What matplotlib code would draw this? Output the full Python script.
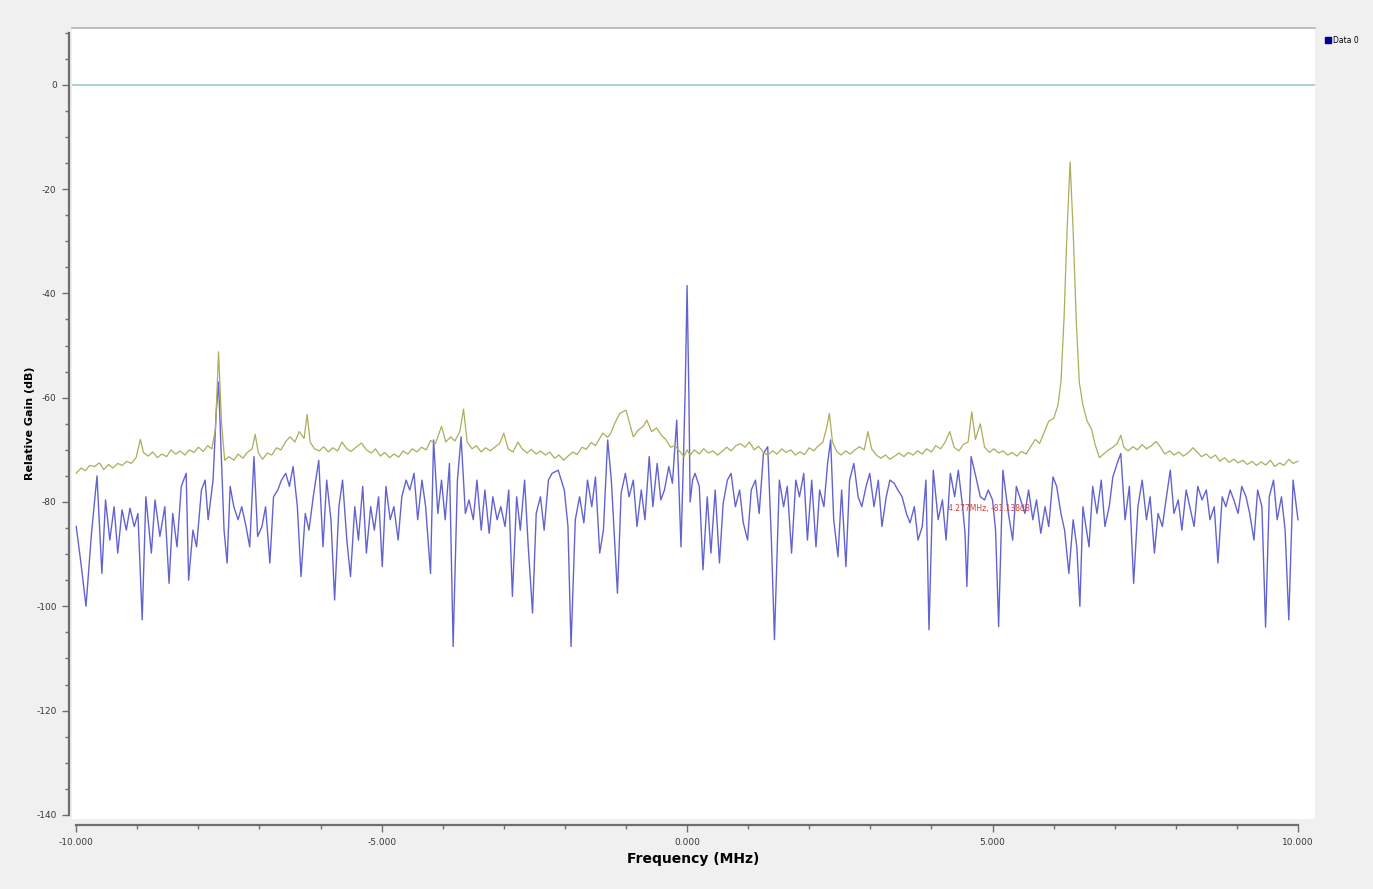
import matplotlib.pyplot as plt
from matplotlib.lines import Line2D
from matplotlib.ticker import MultipleLocator, FixedLocator

plt.rcParams['axes.unicode_minus'] = False

# trace 1 (olive) : (frequency MHz, gain dB)
olive_trace = [
    (-10.0, -74.5), (-9.92, -73.5), (-9.85, -74.0), (-9.78, -73.0), (-9.7, -73.2), (-9.62, -72.5),
    (-9.55, -73.8), (-9.47, -72.8), (-9.4, -73.5), (-9.32, -72.6), (-9.25, -73.0), (-9.17, -72.2),
    (-9.1, -72.6), (-9.02, -71.5), (-8.95, -68.0), (-8.9, -70.5), (-8.82, -71.2), (-8.75, -70.4),
    (-8.67, -71.5), (-8.6, -70.8), (-8.52, -71.3), (-8.45, -70.0), (-8.37, -70.8), (-8.3, -70.2),
    (-8.22, -71.0), (-8.15, -70.0), (-8.07, -70.5), (-8.0, -69.5), (-7.92, -70.3), (-7.85, -69.2),
    (-7.78, -69.8), (-7.72, -66.0), (-7.67, -51.2), (-7.62, -65.0), (-7.57, -72.0), (-7.5, -71.3),
    (-7.42, -72.0), (-7.35, -70.8), (-7.27, -71.6), (-7.2, -70.5), (-7.12, -69.8), (-7.07, -67.0),
    (-7.02, -70.5), (-6.95, -71.8), (-6.87, -70.6), (-6.8, -71.0), (-6.72, -69.6), (-6.65, -70.0),
    (-6.57, -68.4), (-6.5, -67.5), (-6.42, -68.5), (-6.35, -66.5), (-6.27, -67.8), (-6.22, -63.2),
    (-6.17, -68.5), (-6.1, -69.8), (-6.02, -70.2), (-5.95, -69.4), (-5.87, -70.4), (-5.8, -69.6),
    (-5.72, -70.2), (-5.65, -68.5), (-5.57, -69.8), (-5.5, -70.3), (-5.42, -69.5), (-5.33, -68.7),
    (-5.25, -70.0), (-5.17, -70.6), (-5.1, -69.8), (-5.02, -71.2), (-4.95, -70.5), (-4.87, -71.5),
    (-4.8, -70.8), (-4.72, -71.4), (-4.65, -70.2), (-4.57, -70.8), (-4.5, -69.8), (-4.42, -70.4),
    (-4.35, -69.5), (-4.27, -70.0), (-4.2, -68.2), (-4.12, -68.8), (-4.02, -65.5), (-3.95, -68.5),
    (-3.87, -67.5), (-3.8, -68.3), (-3.72, -66.5), (-3.66, -62.2), (-3.6, -68.5), (-3.52, -69.8),
    (-3.45, -69.2), (-3.37, -70.4), (-3.3, -69.6), (-3.22, -70.2), (-3.15, -69.5), (-3.07, -68.8),
    (-3.0, -66.8), (-2.93, -69.8), (-2.85, -70.4), (-2.77, -68.5), (-2.7, -69.8), (-2.62, -70.6),
    (-2.55, -69.9), (-2.47, -70.8), (-2.4, -70.2), (-2.32, -71.0), (-2.25, -70.4), (-2.17, -71.6),
    (-2.1, -71.0), (-2.02, -72.0), (-1.95, -71.2), (-1.87, -70.4), (-1.8, -70.9), (-1.72, -69.5),
    (-1.65, -69.9), (-1.57, -68.6), (-1.5, -69.2), (-1.43, -67.8), (-1.38, -66.8), (-1.3, -67.6),
    (-1.25, -66.8), (-1.18, -64.8), (-1.1, -63.0), (-1.0, -62.4), (-0.95, -64.5), (-0.88, -67.5),
    (-0.8, -66.2), (-0.72, -65.5), (-0.66, -64.3), (-0.58, -66.5), (-0.5, -65.8), (-0.42, -67.2),
    (-0.35, -68.0), (-0.27, -69.5), (-0.2, -69.2), (-0.12, -70.3), (-0.05, -71.3), (0.0, -70.0),
    (0.05, -71.0), (0.12, -70.0), (0.2, -70.8), (0.27, -69.8), (0.35, -70.6), (0.42, -70.2),
    (0.5, -71.0), (0.57, -70.3), (0.65, -69.5), (0.72, -70.2), (0.8, -69.2), (0.87, -68.8),
    (0.95, -69.5), (1.02, -68.5), (1.1, -70.0), (1.17, -69.3), (1.25, -70.5), (1.32, -71.0),
    (1.4, -70.2), (1.47, -70.8), (1.55, -69.8), (1.62, -70.5), (1.7, -70.0), (1.77, -71.0),
    (1.85, -70.4), (1.92, -70.9), (2.0, -69.6), (2.07, -70.2), (2.15, -69.2), (2.22, -68.6),
    (2.28, -66.0), (2.33, -63.0), (2.38, -68.5), (2.45, -70.3), (2.52, -71.0), (2.6, -70.2),
    (2.67, -70.8), (2.75, -70.0), (2.82, -69.4), (2.9, -70.0), (2.96, -66.5), (3.02, -69.8),
    (3.1, -71.0), (3.17, -71.6), (3.25, -71.0), (3.32, -71.8), (3.4, -71.2), (3.47, -70.6),
    (3.55, -71.3), (3.62, -70.5), (3.7, -71.0), (3.77, -70.2), (3.85, -70.8), (3.92, -69.8),
    (4.0, -70.4), (4.07, -69.2), (4.15, -69.8), (4.22, -68.6), (4.3, -66.5), (4.37, -69.5),
    (4.45, -70.2), (4.52, -69.0), (4.6, -68.5), (4.66, -62.7), (4.72, -68.0), (4.8, -65.0),
    (4.87, -69.5), (4.95, -70.5), (5.02, -69.8), (5.1, -70.6), (5.17, -70.2), (5.25, -71.0),
    (5.32, -70.5), (5.4, -71.2), (5.47, -70.3), (5.55, -70.8), (5.62, -69.5), (5.7, -68.0),
    (5.77, -68.8), (5.85, -66.5), (5.92, -64.5), (6.0, -64.0), (6.07, -61.5), (6.12, -57.0),
    (6.17, -45.0), (6.22, -28.0), (6.27, -14.8), (6.32, -28.0), (6.37, -45.0), (6.42, -57.0),
    (6.48, -61.5), (6.55, -64.5), (6.62, -66.0), (6.68, -69.0), (6.75, -71.5), (6.82, -70.8),
    (6.9, -70.0), (6.97, -69.5), (7.04, -68.8), (7.1, -67.2), (7.15, -69.5), (7.22, -70.2),
    (7.3, -69.4), (7.37, -70.0), (7.45, -69.0), (7.52, -69.8), (7.6, -69.2), (7.68, -68.4),
    (7.75, -69.5), (7.82, -70.8), (7.9, -70.2), (7.97, -71.0), (8.05, -70.4), (8.12, -71.2),
    (8.2, -70.6), (8.28, -69.6), (8.35, -70.4), (8.42, -71.3), (8.5, -70.8), (8.57, -71.6),
    (8.65, -71.0), (8.72, -72.2), (8.8, -71.5), (8.87, -72.4), (8.95, -71.8), (9.02, -72.5),
    (9.1, -72.0), (9.17, -72.8), (9.25, -72.2), (9.32, -73.0), (9.4, -72.3), (9.47, -72.9),
    (9.55, -72.0), (9.62, -73.2), (9.7, -72.5), (9.77, -73.0), (9.85, -71.8), (9.92, -72.6),
    (10.0, -72.2),
]

# trace 2 (blue) : (frequency MHz, gain dB)
blue_trace = [
    (-10.0, -84.7), (-9.92, -92.0), (-9.84, -100.0), (-9.75, -86.0), (-9.66, -75.0), (-9.58, -93.7),
    (-9.52, -79.6), (-9.45, -87.3), (-9.38, -80.9), (-9.32, -89.8), (-9.25, -81.5), (-9.18, -85.4),
    (-9.12, -81.2), (-9.05, -84.7), (-8.99, -82.2), (-8.92, -102.6), (-8.86, -79.0), (-8.77, -89.8),
    (-8.71, -79.6), (-8.63, -86.6), (-8.55, -80.9), (-8.48, -95.6), (-8.42, -82.2), (-8.35, -88.6),
    (-8.28, -77.0), (-8.2, -74.5), (-8.16, -95.0), (-8.09, -85.4), (-8.03, -88.6), (-7.95, -77.7),
    (-7.89, -75.8), (-7.84, -83.4), (-7.76, -75.8), (-7.71, -63.0), (-7.67, -57.0), (-7.63, -69.4),
    (-7.58, -85.4), (-7.53, -91.7), (-7.48, -77.0), (-7.42, -80.9), (-7.35, -83.4), (-7.29, -80.9),
    (-7.22, -84.7), (-7.16, -88.6), (-7.09, -71.3), (-7.03, -86.6), (-6.96, -84.7), (-6.9, -80.9),
    (-6.83, -91.7), (-6.77, -79.0), (-6.7, -77.7), (-6.64, -75.8), (-6.57, -74.5), (-6.51, -77.0),
    (-6.45, -73.2), (-6.38, -80.9), (-6.32, -94.3), (-6.25, -82.2), (-6.19, -85.4), (-6.12, -79.0),
    (-6.03, -72.0), (-5.96, -88.6), (-5.9, -75.8), (-5.83, -83.4), (-5.77, -98.8), (-5.7, -80.9),
    (-5.64, -75.8), (-5.57, -87.3), (-5.51, -94.3), (-5.44, -80.9), (-5.38, -87.3), (-5.31, -77.0),
    (-5.25, -89.8), (-5.18, -80.9), (-5.12, -85.4), (-5.05, -79.0), (-4.99, -92.4), (-4.93, -77.0),
    (-4.86, -83.4), (-4.8, -80.9), (-4.73, -87.3), (-4.67, -79.0), (-4.6, -75.8), (-4.54, -77.7),
    (-4.47, -74.5), (-4.41, -83.4), (-4.34, -75.8), (-4.28, -80.9), (-4.2, -93.7), (-4.15, -68.1),
    (-4.08, -82.2), (-4.02, -75.8), (-3.96, -83.4), (-3.89, -72.6), (-3.83, -107.7), (-3.76, -75.8),
    (-3.7, -67.5), (-3.63, -82.2), (-3.57, -79.6), (-3.5, -83.4), (-3.44, -75.8), (-3.37, -85.4),
    (-3.31, -77.7), (-3.24, -86.0), (-3.18, -79.0), (-3.11, -83.4), (-3.05, -80.9), (-2.98, -84.7),
    (-2.92, -77.7), (-2.86, -98.1), (-2.79, -79.0), (-2.73, -85.4), (-2.66, -75.8), (-2.6, -88.6),
    (-2.53, -101.3), (-2.47, -82.2), (-2.4, -79.0), (-2.34, -85.4), (-2.27, -75.8), (-2.21, -74.5),
    (-2.11, -73.9), (-2.01, -77.7), (-1.95, -84.7), (-1.9, -107.7), (-1.83, -83.4), (-1.76, -79.0),
    (-1.69, -84.0), (-1.63, -75.8), (-1.56, -80.9), (-1.5, -75.2), (-1.43, -89.8), (-1.37, -85.4),
    (-1.3, -68.1), (-1.24, -75.8), (-1.14, -97.5), (-1.08, -78.3), (-1.01, -74.5), (-0.95, -79.0),
    (-0.88, -75.8), (-0.82, -84.7), (-0.75, -77.7), (-0.69, -83.4), (-0.62, -71.3), (-0.56, -80.9),
    (-0.49, -72.6), (-0.43, -79.6), (-0.37, -77.7), (-0.3, -73.2), (-0.24, -76.4), (-0.17, -64.3),
    (-0.1, -88.6), (-0.06, -72.0), (-0.03, -58.0), (0.0, -38.5), (0.03, -60.0), (0.05, -80.0),
    (0.09, -75.8), (0.13, -74.5), (0.2, -77.0), (0.26, -93.0), (0.33, -79.0), (0.39, -89.8),
    (0.46, -77.7), (0.53, -91.7), (0.59, -80.3), (0.66, -75.8), (0.72, -74.5), (0.79, -80.9),
    (0.86, -77.7), (0.92, -84.0), (0.99, -87.3), (1.05, -77.7), (1.12, -75.8), (1.18, -82.2),
    (1.25, -70.7), (1.32, -69.4), (1.38, -87.3), (1.43, -106.4), (1.51, -75.8), (1.58, -80.9),
    (1.64, -77.0), (1.71, -89.8), (1.78, -75.8), (1.84, -79.0), (1.91, -74.5), (1.97, -87.3),
    (2.04, -75.8), (2.11, -88.6), (2.17, -77.7), (2.24, -80.9), (2.3, -72.6), (2.35, -68.1),
    (2.4, -83.4), (2.47, -90.5), (2.53, -77.7), (2.6, -92.4), (2.66, -75.8), (2.73, -72.6),
    (2.8, -79.0), (2.86, -80.9), (2.93, -77.0), (2.99, -74.5), (3.06, -80.9), (3.13, -75.8),
    (3.19, -84.7), (3.26, -79.0), (3.32, -75.8), (3.39, -76.4), (3.45, -77.7), (3.52, -79.0),
    (3.59, -82.2), (3.65, -84.0), (3.72, -80.9), (3.78, -87.3), (3.85, -84.7), (3.91, -75.8),
    (3.96, -104.5), (4.03, -73.9), (4.11, -83.4), (4.18, -79.6), (4.24, -87.3), (4.31, -74.5),
    (4.38, -79.0), (4.44, -73.9), (4.51, -80.9), (4.55, -86.0), (4.58, -96.2), (4.65, -71.3),
    (4.74, -75.8), (4.8, -79.0), (4.87, -79.6), (4.93, -77.7), (5.0, -79.6), (5.05, -85.4),
    (5.1, -103.9), (5.17, -73.9), (5.26, -82.2), (5.33, -87.3), (5.39, -77.0), (5.46, -79.6),
    (5.53, -82.2), (5.59, -77.7), (5.66, -83.4), (5.72, -79.6), (5.79, -86.0), (5.86, -80.9),
    (5.92, -84.7), (5.99, -75.2), (6.05, -77.0), (6.12, -82.2), (6.18, -85.4), (6.25, -93.7),
    (6.32, -83.4), (6.38, -88.6), (6.43, -100.0), (6.48, -80.9), (6.53, -84.7), (6.58, -88.6),
    (6.64, -77.0), (6.71, -82.2), (6.78, -75.8), (6.84, -84.7), (6.91, -80.9), (6.97, -75.2),
    (7.04, -72.6), (7.1, -70.7), (7.17, -83.4), (7.24, -77.0), (7.31, -95.6), (7.38, -80.9),
    (7.45, -75.8), (7.52, -83.4), (7.58, -79.0), (7.65, -89.8), (7.71, -82.2), (7.78, -84.7),
    (7.84, -79.6), (7.91, -73.9), (7.97, -82.2), (8.04, -79.6), (8.1, -85.4), (8.17, -77.7),
    (8.23, -80.9), (8.3, -84.7), (8.36, -77.0), (8.43, -79.6), (8.5, -77.7), (8.56, -83.4),
    (8.63, -80.9), (8.69, -91.7), (8.76, -79.0), (8.82, -80.9), (8.89, -77.7), (8.95, -79.6),
    (9.02, -82.2), (9.08, -77.0), (9.15, -79.0), (9.21, -82.2), (9.28, -87.3), (9.34, -77.7),
    (9.41, -80.9), (9.47, -104.0), (9.53, -79.0), (9.6, -75.8), (9.66, -83.4), (9.73, -79.0),
    (9.79, -85.4), (9.85, -102.6), (9.92, -75.8), (10.0, -83.4),
]

y_ticks = [0, -20, -40, -60, -80, -100, -120, -140]
x_ticks = [-10, -5, 0, 5, 10]
x_tick_labels = ['-10.000', '-5.000', '0.000', '5.000', '10.000']

olive_mhz, olive_db = zip(*olive_trace)
blue_mhz, blue_db = zip(*blue_trace)

fig = plt.figure(figsize=(13.73, 8.89), dpi=100, facecolor='#f0f0f0')
ax = fig.add_axes([0.0524, 0.0787, 0.9054, 0.8898])
ax.set_facecolor('white')

# reference line at 0 dB
ax.axhline(0, color='#a9d2d2', lw=1.4, zorder=1)

ax.plot(olive_mhz, olive_db, color='#adad5c', lw=0.9, zorder=3)
ax.plot(blue_mhz, blue_db, color='#4848c8', lw=1.0, alpha=0.85, zorder=2)

# marker readout
ax.text(4.27, -81.2, '4.277MHz, -81.138dB', color='#d04040', fontsize=5.5,
        va='center', ha='left', zorder=4)

ax.set_xlim(-10.07, 10.28)
ax.set_ylim(-140.8, 10.9)

ax.yaxis.set_major_locator(FixedLocator(y_ticks))
ax.yaxis.set_minor_locator(MultipleLocator(5))
ax.xaxis.set_major_locator(FixedLocator(x_ticks))
ax.xaxis.set_minor_locator(MultipleLocator(1))
ax.set_xticklabels(x_tick_labels)

ax.spines['right'].set_visible(False)
ax.spines['top'].set_color('#b4b4b4')
ax.spines['top'].set_linewidth(1.2)
ax.spines['left'].set_bounds(-140, 10)
ax.spines['bottom'].set_bounds(-10, 10)
ax.spines['left'].set_position(('outward', 2))
ax.spines['bottom'].set_position(('outward', 4))
for s in ['left', 'bottom']:
    ax.spines[s].set_color('#6e6e6e')
    ax.spines[s].set_linewidth(1.6)

ax.tick_params(axis='both', which='major', direction='out', colors='#6e6e6e',
               labelcolor='#3a3a3a', labelsize=6.5, width=1, length=5)
ax.tick_params(axis='both', which='minor', direction='out', colors='#6e6e6e',
               width=1, length=3)
ax.tick_params(axis='x', pad=5)
ax.tick_params(axis='y', pad=4)

ax.set_xlabel('Frequency (MHz)', fontsize=10, fontweight='bold', labelpad=3)
ax.set_ylabel('Relative Gain (dB)', fontsize=8, fontweight='bold', labelpad=1)

# legend at the right of the canvas
handle = Line2D([], [], marker='s', color='#000099', ls='none', markersize=4)
fig.legend([handle], ['Data 0'], loc='upper left', bbox_to_anchor=(0.963, 0.963),
           frameon=False, fontsize=5.5, handletextpad=0.2, borderaxespad=0,
           handlelength=0.8)

fig.savefig('out.png', dpi=100, facecolor=fig.get_facecolor())
